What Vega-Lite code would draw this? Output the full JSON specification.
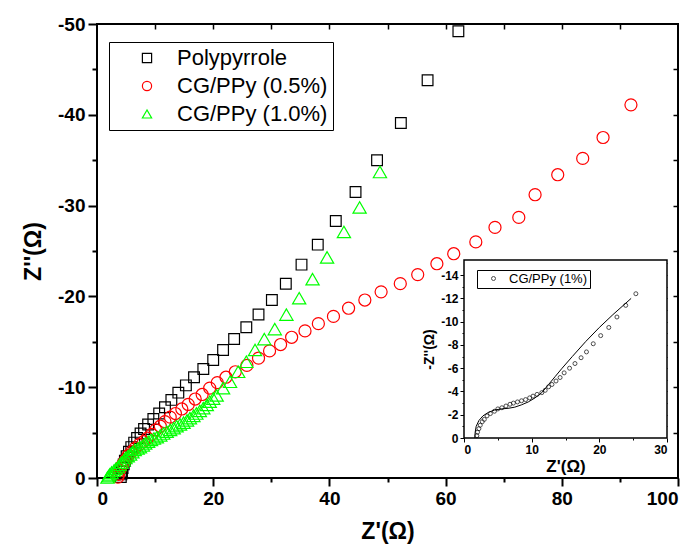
{
  "$schema": "https://vega.github.io/schema/vega-lite/v6.json",
  "width": 581,
  "height": 454,
  "autosize": {"type": "none"},
  "padding": {"left": 97, "top": 24, "right": 15, "bottom": 78},
  "background": "white",
  "config": {
    "font": "Liberation Sans",
    "view": {"stroke": "black", "strokeWidth": 2},
    "axis": {"grid": false, "labelFont": "Liberation Sans", "titleFont": "Liberation Sans", "labelColor": "black", "titleColor": "black", "domainColor": "black", "tickColor": "black"},
    "legend": {"labelFont": "Liberation Sans", "labelColor": "black"}
  },
  "datasets": {
    "main": [
      {"s": "Polypyrrole", "x": 4.1, "y": -0.1}, {"s": "Polypyrrole", "x": 4.2, "y": -0.4}, {"s": "Polypyrrole", "x": 4.3, "y": -0.7}, {"s": "Polypyrrole", "x": 4.4, "y": -1.1}, {"s": "Polypyrrole", "x": 4.6, "y": -1.5}, {"s": "Polypyrrole", "x": 4.8, "y": -1.9}, {"s": "Polypyrrole", "x": 5.1, "y": -2.4}, {"s": "Polypyrrole", "x": 5.5, "y": -2.9}, {"s": "Polypyrrole", "x": 5.9, "y": -3.4}, {"s": "Polypyrrole", "x": 6.4, "y": -3.9}, {"s": "Polypyrrole", "x": 6.9, "y": -4.4}, {"s": "Polypyrrole", "x": 7.5, "y": -4.9}, {"s": "Polypyrrole", "x": 8.1, "y": -5.4}, {"s": "Polypyrrole", "x": 8.8, "y": -5.9}, {"s": "Polypyrrole", "x": 9.7, "y": -6.5}, {"s": "Polypyrrole", "x": 10.7, "y": -7.1}, {"s": "Polypyrrole", "x": 11.7, "y": -7.8}, {"s": "Polypyrrole", "x": 12.8, "y": -8.6}, {"s": "Polypyrrole", "x": 14.0, "y": -9.4}, {"s": "Polypyrrole", "x": 15.3, "y": -10.2}, {"s": "Polypyrrole", "x": 16.7, "y": -11.1}, {"s": "Polypyrrole", "x": 18.3, "y": -12.0}, {"s": "Polypyrrole", "x": 20.0, "y": -13.0}, {"s": "Polypyrrole", "x": 21.7, "y": -14.1}, {"s": "Polypyrrole", "x": 23.6, "y": -15.3}, {"s": "Polypyrrole", "x": 25.7, "y": -16.6}, {"s": "Polypyrrole", "x": 27.8, "y": -18.0}, {"s": "Polypyrrole", "x": 30.1, "y": -19.6}, {"s": "Polypyrrole", "x": 32.5, "y": -21.4}, {"s": "Polypyrrole", "x": 35.2, "y": -23.5}, {"s": "Polypyrrole", "x": 38.0, "y": -25.7}, {"s": "Polypyrrole", "x": 41.1, "y": -28.3}, {"s": "Polypyrrole", "x": 44.5, "y": -31.5}, {"s": "Polypyrrole", "x": 48.2, "y": -35.0}, {"s": "Polypyrrole", "x": 52.3, "y": -39.1}, {"s": "Polypyrrole", "x": 56.9, "y": -43.8}, {"s": "Polypyrrole", "x": 62.2, "y": -49.2},
      {"s": "CG/PPy (0.5%)", "x": 3.6, "y": -0.1}, {"s": "CG/PPy (0.5%)", "x": 3.7, "y": -0.4}, {"s": "CG/PPy (0.5%)", "x": 3.9, "y": -0.8}, {"s": "CG/PPy (0.5%)", "x": 4.1, "y": -1.2}, {"s": "CG/PPy (0.5%)", "x": 4.5, "y": -1.6}, {"s": "CG/PPy (0.5%)", "x": 4.9, "y": -2.0}, {"s": "CG/PPy (0.5%)", "x": 5.4, "y": -2.5}, {"s": "CG/PPy (0.5%)", "x": 6.0, "y": -2.9}, {"s": "CG/PPy (0.5%)", "x": 6.6, "y": -3.3}, {"s": "CG/PPy (0.5%)", "x": 7.3, "y": -3.7}, {"s": "CG/PPy (0.5%)", "x": 8.0, "y": -4.0}, {"s": "CG/PPy (0.5%)", "x": 8.7, "y": -4.4}, {"s": "CG/PPy (0.5%)", "x": 9.4, "y": -4.8}, {"s": "CG/PPy (0.5%)", "x": 10.1, "y": -5.3}, {"s": "CG/PPy (0.5%)", "x": 10.9, "y": -5.7}, {"s": "CG/PPy (0.5%)", "x": 11.7, "y": -6.2}, {"s": "CG/PPy (0.5%)", "x": 12.6, "y": -6.7}, {"s": "CG/PPy (0.5%)", "x": 13.5, "y": -7.1}, {"s": "CG/PPy (0.5%)", "x": 14.6, "y": -7.6}, {"s": "CG/PPy (0.5%)", "x": 15.7, "y": -8.1}, {"s": "CG/PPy (0.5%)", "x": 16.9, "y": -8.7}, {"s": "CG/PPy (0.5%)", "x": 18.1, "y": -9.2}, {"s": "CG/PPy (0.5%)", "x": 19.4, "y": -9.9}, {"s": "CG/PPy (0.5%)", "x": 20.7, "y": -10.5}, {"s": "CG/PPy (0.5%)", "x": 22.2, "y": -11.1}, {"s": "CG/PPy (0.5%)", "x": 23.8, "y": -11.7}, {"s": "CG/PPy (0.5%)", "x": 25.8, "y": -12.4}, {"s": "CG/PPy (0.5%)", "x": 27.8, "y": -13.2}, {"s": "CG/PPy (0.5%)", "x": 29.7, "y": -14.0}, {"s": "CG/PPy (0.5%)", "x": 31.6, "y": -14.7}, {"s": "CG/PPy (0.5%)", "x": 33.5, "y": -15.5}, {"s": "CG/PPy (0.5%)", "x": 35.8, "y": -16.2}, {"s": "CG/PPy (0.5%)", "x": 38.1, "y": -17.0}, {"s": "CG/PPy (0.5%)", "x": 40.7, "y": -17.8}, {"s": "CG/PPy (0.5%)", "x": 43.3, "y": -18.7}, {"s": "CG/PPy (0.5%)", "x": 46.1, "y": -19.6}, {"s": "CG/PPy (0.5%)", "x": 48.9, "y": -20.5}, {"s": "CG/PPy (0.5%)", "x": 52.2, "y": -21.4}, {"s": "CG/PPy (0.5%)", "x": 55.2, "y": -22.4}, {"s": "CG/PPy (0.5%)", "x": 58.5, "y": -23.6}, {"s": "CG/PPy (0.5%)", "x": 61.4, "y": -24.7}, {"s": "CG/PPy (0.5%)", "x": 65.2, "y": -26.0}, {"s": "CG/PPy (0.5%)", "x": 68.5, "y": -27.6}, {"s": "CG/PPy (0.5%)", "x": 72.6, "y": -28.7}, {"s": "CG/PPy (0.5%)", "x": 75.4, "y": -31.2}, {"s": "CG/PPy (0.5%)", "x": 79.3, "y": -33.4}, {"s": "CG/PPy (0.5%)", "x": 83.6, "y": -35.2}, {"s": "CG/PPy (0.5%)", "x": 87.1, "y": -37.5}, {"s": "CG/PPy (0.5%)", "x": 91.9, "y": -41.1},
      {"s": "CG/PPy (1.0%)", "x": 1.8, "y": -0.05}, {"s": "CG/PPy (1.0%)", "x": 2.0, "y": -0.2}, {"s": "CG/PPy (1.0%)", "x": 2.2, "y": -0.4}, {"s": "CG/PPy (1.0%)", "x": 2.5, "y": -0.6}, {"s": "CG/PPy (1.0%)", "x": 2.9, "y": -0.8}, {"s": "CG/PPy (1.0%)", "x": 3.2, "y": -1.0}, {"s": "CG/PPy (1.0%)", "x": 3.6, "y": -1.2}, {"s": "CG/PPy (1.0%)", "x": 3.9, "y": -1.45}, {"s": "CG/PPy (1.0%)", "x": 4.2, "y": -1.7}, {"s": "CG/PPy (1.0%)", "x": 4.6, "y": -1.95}, {"s": "CG/PPy (1.0%)", "x": 4.9, "y": -2.2}, {"s": "CG/PPy (1.0%)", "x": 5.3, "y": -2.4}, {"s": "CG/PPy (1.0%)", "x": 5.7, "y": -2.6}, {"s": "CG/PPy (1.0%)", "x": 6.1, "y": -2.85}, {"s": "CG/PPy (1.0%)", "x": 6.5, "y": -3.1}, {"s": "CG/PPy (1.0%)", "x": 7.0, "y": -3.25}, {"s": "CG/PPy (1.0%)", "x": 7.4, "y": -3.4}, {"s": "CG/PPy (1.0%)", "x": 7.9, "y": -3.6}, {"s": "CG/PPy (1.0%)", "x": 8.3, "y": -3.8}, {"s": "CG/PPy (1.0%)", "x": 8.8, "y": -4.0}, {"s": "CG/PPy (1.0%)", "x": 9.3, "y": -4.2}, {"s": "CG/PPy (1.0%)", "x": 9.8, "y": -4.35}, {"s": "CG/PPy (1.0%)", "x": 10.3, "y": -4.5}, {"s": "CG/PPy (1.0%)", "x": 10.9, "y": -4.7}, {"s": "CG/PPy (1.0%)", "x": 11.4, "y": -4.9}, {"s": "CG/PPy (1.0%)", "x": 12.0, "y": -5.1}, {"s": "CG/PPy (1.0%)", "x": 12.6, "y": -5.3}, {"s": "CG/PPy (1.0%)", "x": 13.2, "y": -5.5}, {"s": "CG/PPy (1.0%)", "x": 13.7, "y": -5.7}, {"s": "CG/PPy (1.0%)", "x": 14.3, "y": -5.9}, {"s": "CG/PPy (1.0%)", "x": 14.9, "y": -6.1}, {"s": "CG/PPy (1.0%)", "x": 15.5, "y": -6.35}, {"s": "CG/PPy (1.0%)", "x": 16.0, "y": -6.6}, {"s": "CG/PPy (1.0%)", "x": 16.6, "y": -6.85}, {"s": "CG/PPy (1.0%)", "x": 17.1, "y": -7.1}, {"s": "CG/PPy (1.0%)", "x": 17.7, "y": -7.4}, {"s": "CG/PPy (1.0%)", "x": 18.3, "y": -7.7}, {"s": "CG/PPy (1.0%)", "x": 18.9, "y": -8.05}, {"s": "CG/PPy (1.0%)", "x": 19.4, "y": -8.4}, {"s": "CG/PPy (1.0%)", "x": 20.0, "y": -8.75}, {"s": "CG/PPy (1.0%)", "x": 20.6, "y": -9.1}, {"s": "CG/PPy (1.0%)", "x": 21.7, "y": -9.9}, {"s": "CG/PPy (1.0%)", "x": 22.9, "y": -10.6}, {"s": "CG/PPy (1.0%)", "x": 24.3, "y": -11.7}, {"s": "CG/PPy (1.0%)", "x": 25.7, "y": -12.8}, {"s": "CG/PPy (1.0%)", "x": 27.2, "y": -14.1}, {"s": "CG/PPy (1.0%)", "x": 28.8, "y": -15.3}, {"s": "CG/PPy (1.0%)", "x": 30.6, "y": -16.4}, {"s": "CG/PPy (1.0%)", "x": 32.6, "y": -18.0}, {"s": "CG/PPy (1.0%)", "x": 34.8, "y": -19.8}, {"s": "CG/PPy (1.0%)", "x": 37.1, "y": -21.9}, {"s": "CG/PPy (1.0%)", "x": 39.6, "y": -24.3}, {"s": "CG/PPy (1.0%)", "x": 42.5, "y": -27.1}, {"s": "CG/PPy (1.0%)", "x": 45.2, "y": -29.8}, {"s": "CG/PPy (1.0%)", "x": 48.7, "y": -33.7}
    ],
    "inset": [
      {"s": "CG/PPy (1%)", "x": 1.9, "y": -0.2}, {"s": "CG/PPy (1%)", "x": 2.0, "y": -0.5}, {"s": "CG/PPy (1%)", "x": 2.2, "y": -0.8}, {"s": "CG/PPy (1%)", "x": 2.4, "y": -1.1}, {"s": "CG/PPy (1%)", "x": 2.7, "y": -1.4}, {"s": "CG/PPy (1%)", "x": 3.0, "y": -1.6}, {"s": "CG/PPy (1%)", "x": 3.4, "y": -1.9}, {"s": "CG/PPy (1%)", "x": 3.9, "y": -2.1}, {"s": "CG/PPy (1%)", "x": 4.5, "y": -2.3}, {"s": "CG/PPy (1%)", "x": 5.0, "y": -2.5}, {"s": "CG/PPy (1%)", "x": 5.6, "y": -2.6}, {"s": "CG/PPy (1%)", "x": 6.2, "y": -2.75}, {"s": "CG/PPy (1%)", "x": 6.8, "y": -2.9}, {"s": "CG/PPy (1%)", "x": 7.3, "y": -3.0}, {"s": "CG/PPy (1%)", "x": 7.9, "y": -3.1}, {"s": "CG/PPy (1%)", "x": 8.5, "y": -3.2}, {"s": "CG/PPy (1%)", "x": 9.1, "y": -3.3}, {"s": "CG/PPy (1%)", "x": 9.7, "y": -3.45}, {"s": "CG/PPy (1%)", "x": 10.2, "y": -3.6}, {"s": "CG/PPy (1%)", "x": 10.8, "y": -3.75}, {"s": "CG/PPy (1%)", "x": 11.5, "y": -3.9}, {"s": "CG/PPy (1%)", "x": 12.0, "y": -4.1}, {"s": "CG/PPy (1%)", "x": 12.5, "y": -4.4}, {"s": "CG/PPy (1%)", "x": 13.0, "y": -4.6}, {"s": "CG/PPy (1%)", "x": 13.6, "y": -4.9}, {"s": "CG/PPy (1%)", "x": 14.2, "y": -5.2}, {"s": "CG/PPy (1%)", "x": 14.8, "y": -5.6}, {"s": "CG/PPy (1%)", "x": 15.6, "y": -6.0}, {"s": "CG/PPy (1%)", "x": 16.4, "y": -6.4}, {"s": "CG/PPy (1%)", "x": 17.3, "y": -6.9}, {"s": "CG/PPy (1%)", "x": 18.1, "y": -7.4}, {"s": "CG/PPy (1%)", "x": 19.1, "y": -8.1}, {"s": "CG/PPy (1%)", "x": 20.2, "y": -8.8}, {"s": "CG/PPy (1%)", "x": 21.4, "y": -9.5}, {"s": "CG/PPy (1%)", "x": 22.6, "y": -10.4}, {"s": "CG/PPy (1%)", "x": 23.9, "y": -11.4}, {"s": "CG/PPy (1%)", "x": 25.4, "y": -12.4}
    ],
    "fit": [
      {"x": 1.6, "y": 0}, {"x": 1.65, "y": -0.5}, {"x": 1.8, "y": -1.0}, {"x": 2.2, "y": -1.5}, {"x": 2.8, "y": -1.9}, {"x": 3.6, "y": -2.2}, {"x": 4.5, "y": -2.4}, {"x": 5.5, "y": -2.5}, {"x": 6.5, "y": -2.55}, {"x": 7.5, "y": -2.65}, {"x": 8.5, "y": -2.85}, {"x": 9.5, "y": -3.1}, {"x": 10.5, "y": -3.45}, {"x": 11.5, "y": -3.9}, {"x": 12.5, "y": -4.6}, {"x": 13.5, "y": -5.3}, {"x": 14.5, "y": -6.0}, {"x": 16, "y": -7.0}, {"x": 18, "y": -8.3}, {"x": 20, "y": -9.5}, {"x": 22, "y": -10.6}, {"x": 24.7, "y": -12.0}
    ]
  },
  "layer": [
    {
      "data": {"name": "main"},
      "layer": [
        {
          "mark": {"type": "point", "filled": false, "strokeWidth": 1.2, "opacity": 1},
          "encoding": {
            "x": {"field": "x", "type": "quantitative", "scale": {"domain": [0, 100], "nice": false, "zero": false},
              "axis": {"orient": "bottom", "values": [0, 20, 40, 60, 80, 100], "tickSize": 8, "tickWidth": 2, "domain": false, "labelFontSize": 19, "labelFontWeight": "bold", "labelPadding": 3, "title": "Z'(Ω)", "titleFontSize": 23, "titleFontWeight": "bold", "titlePadding": 12}},
            "y": {"field": "y", "type": "quantitative", "scale": {"domain": [-50, 0], "reverse": true, "nice": false, "zero": false},
              "axis": {"orient": "left", "values": [-50, -40, -30, -20, -10, 0], "labelExpr": "datum.value == 0 ? '0' : '-' + abs(datum.value)", "tickSize": 9, "tickWidth": 2, "domain": false, "labelFontSize": 19, "labelFontWeight": "bold", "labelPadding": 3, "title": "Z''(Ω)", "titleFontSize": 23, "titleFontWeight": "bold", "titlePadding": 12}},
            "shape": {"field": "s", "type": "nominal", "scale": {"domain": ["Polypyrrole", "CG/PPy (0.5%)", "CG/PPy (1.0%)"], "range": ["square", "circle", "triangle-up"]},
              "legend": {"title": null, "orient": "none", "legendX": 12, "legendY": 18, "strokeColor": "black", "fillColor": "white", "padding": 5, "labelFontSize": 22, "symbolSize": 85, "symbolStrokeWidth": 1.2, "symbolOffset": 22, "labelOffset": 19, "rowPadding": 6}},
            "color": {"field": "s", "type": "nominal", "scale": {"domain": ["Polypyrrole", "CG/PPy (0.5%)", "CG/PPy (1.0%)"], "range": ["#000000", "#ff0000", "#00ff00"]},
              "legend": {"title": null, "orient": "none", "legendX": 12, "legendY": 18, "strokeColor": "black", "fillColor": "white", "padding": 5, "labelFontSize": 22, "symbolSize": 85, "symbolStrokeWidth": 1.2, "symbolOffset": 22, "labelOffset": 19, "rowPadding": 6}},
            "size": {"field": "s", "type": "nominal", "scale": {"domain": ["Polypyrrole", "CG/PPy (0.5%)", "CG/PPy (1.0%)"], "range": [115, 175, 215]}, "legend": null}
          }
        },
        {
          "mark": {"type": "point", "opacity": 0},
          "encoding": {
            "x": {"field": "x", "type": "quantitative", "scale": {"domain": [0, 100], "nice": false, "zero": false},
              "axis": {"orient": "bottom", "values": [10, 30, 50, 70, 90], "tickSize": 4, "tickWidth": 2, "domain": false, "labels": false, "title": null}},
            "y": {"field": "y", "type": "quantitative", "scale": {"domain": [-50, 0], "reverse": true, "nice": false, "zero": false},
              "axis": {"orient": "left", "values": [-45, -35, -25, -15, -5], "tickSize": 5, "tickWidth": 2, "domain": false, "labels": false, "title": null}}
          }
        },
        {
          "mark": {"type": "point", "opacity": 0},
          "encoding": {
            "x": {"field": "x", "type": "quantitative", "scale": {"domain": [0, 100], "nice": false, "zero": false},
              "axis": {"orient": "top", "values": [10, 20, 30, 40, 50, 60, 70, 80, 90], "tickSize": -5, "tickWidth": 1.5, "domain": false, "labels": false, "title": null}},
            "y": {"field": "y", "type": "quantitative", "scale": {"domain": [-50, 0], "reverse": true, "nice": false, "zero": false},
              "axis": {"orient": "right", "values": [-45, -40, -35, -30, -25, -20, -15, -10, -5], "tickSize": -5, "tickWidth": 1.5, "domain": false, "labels": false, "title": null}}
          }
        }
      ],
      "resolve": {"axis": {"x": "independent", "y": "independent"}}
    },
    {
      "layer": [
        {
          "data": {"values": [{}]},
          "mark": {"type": "rect", "fill": "white", "stroke": "black", "strokeWidth": 1.5},
          "encoding": {
            "x": {"datum": 0, "type": "quantitative", "scale": {"domain": [0, 30], "range": [367, 570], "nice": false, "zero": false}, "axis": null},
            "x2": {"datum": 30},
            "y": {"datum": 0, "type": "quantitative", "scale": {"domain": [-15.3, 0], "range": [236, 414], "nice": false, "zero": false}, "axis": null},
            "y2": {"datum": -15.3}
          }
        },
        {
          "data": {"name": "fit"},
          "mark": {"type": "line", "color": "black", "strokeWidth": 1},
          "encoding": {
            "x": {"field": "x", "type": "quantitative", "scale": {"domain": [0, 30], "range": [367, 570], "nice": false, "zero": false},
              "axis": {"orient": "bottom", "offset": -40, "values": [5, 15, 25], "tickSize": 2, "tickWidth": 1, "domain": false, "labels": false, "title": null}},
            "y": {"field": "y", "type": "quantitative", "scale": {"domain": [-15.3, 0], "range": [236, 414], "nice": false, "zero": false},
              "axis": {"orient": "left", "offset": -367, "values": [-13, -11, -9, -7, -5, -3, -1], "tickSize": 2, "tickWidth": 1, "domain": false, "labels": false, "title": null}}
          }
        },
        {
          "data": {"name": "inset"},
          "mark": {"type": "point", "filled": false, "color": "black", "strokeWidth": 1, "size": 16},
          "encoding": {
            "x": {"field": "x", "type": "quantitative", "scale": {"domain": [0, 30], "range": [367, 570], "nice": false, "zero": false},
              "axis": {"orient": "bottom", "offset": -40, "values": [0, 10, 20, 30], "tickSize": 4, "tickWidth": 1, "domain": false, "labelFontSize": 12, "labelFontWeight": "bold", "labelPadding": 2, "title": "Z'(Ω)", "titleFontSize": 17, "titleFontWeight": "bold", "titlePadding": 3}},
            "y": {"field": "y", "type": "quantitative", "scale": {"domain": [-15.3, 0], "range": [236, 414], "nice": false, "zero": false},
              "axis": {"orient": "left", "offset": -367, "values": [-14, -12, -10, -8, -6, -4, -2, 0], "labelExpr": "datum.value == 0 ? '0' : '-' + abs(datum.value)", "tickSize": 4, "tickWidth": 1, "domain": false, "labelFontSize": 12, "labelFontWeight": "bold", "labelPadding": 2, "title": "-Z''(Ω)", "titleFontSize": 14, "titleFontWeight": "bold", "titlePadding": 4}},
            "shape": {"field": "s", "type": "nominal", "scale": {"domain": ["CG/PPy (1%)"], "range": ["circle"]},
              "legend": {"title": null, "orient": "none", "legendX": 380, "legendY": 246, "strokeColor": "black", "fillColor": "white", "padding": 2, "labelFontSize": 13, "symbolSize": 16, "symbolStrokeWidth": 1, "symbolStrokeColor": "black", "symbolOffset": 8, "labelOffset": 9}}
          }
        },
        {
          "data": {"name": "inset"},
          "mark": {"type": "point", "opacity": 0},
          "encoding": {
            "x": {"field": "x", "type": "quantitative", "scale": {"domain": [0, 30], "range": [367, 570], "nice": false, "zero": false},
              "axis": {"orient": "top", "offset": -236, "values": [5, 10, 15, 20, 25], "tickSize": -3, "tickWidth": 1, "domain": false, "labels": false, "title": null}},
            "y": {"field": "y", "type": "quantitative", "scale": {"domain": [-15.3, 0], "range": [236, 414], "nice": false, "zero": false},
              "axis": {"orient": "right", "offset": -11, "values": [-15, -14, -13, -12, -11, -10, -9, -8, -7, -6, -5, -4, -3, -2, -1], "tickSize": -3, "tickWidth": 1, "domain": false, "labels": false, "title": null}}
          }
        }
      ],
      "resolve": {"axis": {"x": "independent", "y": "independent"}}
    }
  ],
  "resolve": {"scale": {"x": "independent", "y": "independent", "shape": "independent", "color": "independent"}}
}
